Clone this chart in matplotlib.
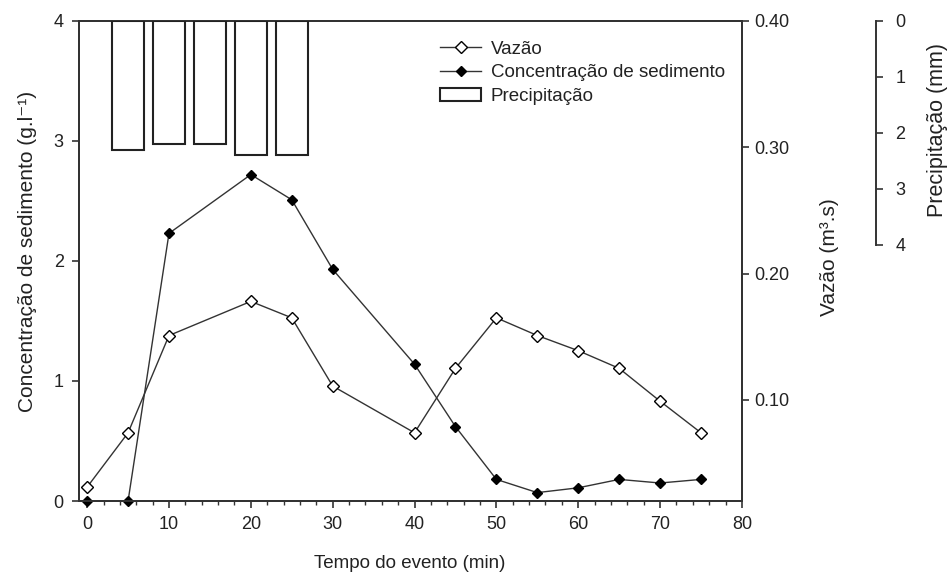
import matplotlib
matplotlib.use("Agg")
import matplotlib.pyplot as plt
from matplotlib.lines import Line2D
from matplotlib.patches import Patch

plt.rcParams['font.family'] = ['Liberation Sans', 'DejaVu Sans']
plt.rcParams['font.size'] = 13

# tempo do evento (min)
tempo = [0, 5, 10, 20, 25, 30, 40, 45, 50, 55, 60, 65, 70, 75]
# vazão (m3.s)
vazao = [0.031, 0.074, 0.151, 0.178, 0.165, 0.111, 0.074, 0.125,
         0.165, 0.151, 0.139, 0.125, 0.099, 0.074]
# concentração de sedimento (g/l)
conc = [0.0, 0.0, 2.23, 2.72, 2.51, 1.93, 1.14, 0.62,
        0.18, 0.07, 0.11, 0.18, 0.15, 0.18]
# precipitação (mm)
t_prec = [5, 10, 15, 20, 25]
prec = [2.3, 2.2, 2.2, 2.4, 2.4]

txt = '#222222'
lc = '#333333'

fig = plt.figure(figsize=(9.49, 5.77), dpi=100)
ax = fig.add_axes([0.0832, 0.1317, 0.6986, 0.832])
ax2 = ax.twinx()
ax3 = ax.twinx()

ax.plot(tempo, conc, color=lc, lw=1, marker='D', ms=5.5,
        mfc='black', mec='black', zorder=3, clip_on=False)
ax2.plot(tempo, vazao, color=lc, lw=1, marker='D', ms=6,
         mfc='white', mec='black', mew=1, zorder=3)
ax3.bar(t_prec, prec, width=3.9, bottom=0, color='white',
        edgecolor='#222222', lw=1.5)

ax.set_xlim(-1, 80)
ax.set_ylim(0, 4)
ax.set_xticks(range(0, 81, 10))
ax.set_xticks(range(0, 81, 2), minor=True)
ax.set_yticks([0, 1, 2, 3, 4])

ax2.set_ylim(0.02, 0.40)
ax2.set_yticks([0.10, 0.20, 0.30, 0.40])
ax2.set_yticklabels(['0.10', '0.20', '0.30', '0.40'])

# precipitation axis hangs from the top, inverted
ax3.set_ylim(480 / 56, 0)
ax3.set_yticks([0, 1, 2, 3, 4])
ax3.set_yticks([4], minor=True)
ax3.spines['right'].set_position(('axes', 1.202))
ax3.spines['right'].set_bounds(0, 4)
for s in ['left', 'top', 'bottom']:
    ax3.spines[s].set_visible(False)
ax3.patch.set_visible(False)

for a in (ax, ax2, ax3):
    for s in a.spines.values():
        s.set_linewidth(1.4)
        s.set_color('#333333')

ax.tick_params(axis='both', which='major', direction='out', length=5,
               width=1.2, colors='#333333', labelcolor=txt)
ax.tick_params(axis='x', which='minor', direction='out', length=3,
               width=1.0, colors='#333333')
ax.tick_params(axis='x', pad=6)
ax.tick_params(axis='y', pad=6)
ax2.tick_params(axis='y', direction='out', length=5, width=1.2,
                colors='#333333', labelcolor=txt, pad=4)
ax3.tick_params(axis='y', which='major', direction='out', length=5,
                width=1.2, colors='#333333', labelcolor=txt, pad=9)
ax3.tick_params(axis='y', which='minor', direction='in', length=6,
                width=1.2, colors='#333333')

ax.set_xlabel('Tempo do evento (min)', color=txt, fontsize=13.5)
ax.xaxis.set_label_coords(0.499, -0.113)
ax.set_ylabel('Concentração de sedimento (g.l⁻¹)', color=txt, fontsize=15)
ax.yaxis.set_label_coords(-0.064, 0.519)
ax2.set_ylabel('Vazão (m³.s)', color=txt, fontsize=15)
ax2.yaxis.set_label_coords(1.118, 0.508)
ax3.set_ylabel('Precipitação (mm)', color=txt, fontsize=15.5)
ax3.yaxis.set_label_coords(1.279, 0.773)

handles = [
    Line2D([], [], color=lc, lw=1, marker='D', ms=6, mfc='white', mec='black'),
    Line2D([], [], color=lc, lw=1, marker='D', ms=5.5, mfc='black', mec='black'),
    Patch(facecolor='white', edgecolor='#222222', lw=1.5),
]
leg = ax3.legend(handles, ['Vazão', 'Concentração de sedimento', 'Precipitação'],
                 loc='upper left', bbox_to_anchor=(0.5445, 0.959), frameon=False,
                 fontsize=13.5, handlelength=2.2, handletextpad=0.5,
                 labelspacing=0.34, borderaxespad=0, borderpad=0)
for t in leg.get_texts():
    t.set_color(txt)

fig.savefig('out.png', dpi=100)
